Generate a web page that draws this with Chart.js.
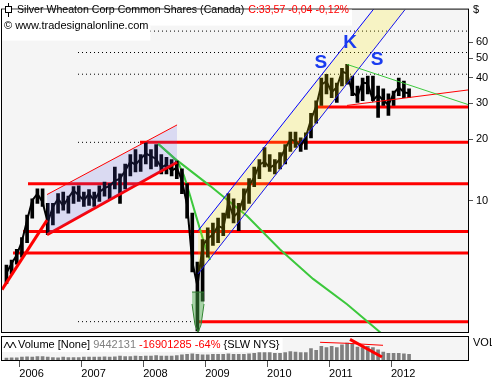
<!DOCTYPE html>
<html>
<head>
<meta charset="utf-8">
<script src="https://cdn.jsdelivr.net/npm/chart.js@4.4.1/dist/chart.umd.min.js"></script>
<style>
    html, body { margin: 0; padding: 0; background: #fff; }
</style>
</head>
<body>
<canvas id="grafico" width="492" height="378"></canvas>
<script>
// meses (categorias) e valores
const meses = [
    '2005-10', '2005-11', '2005-12',
    '2006-01', '2006-02', '2006-03', '2006-04', '2006-05', '2006-06', '2006-07', '2006-08', '2006-09', '2006-10', '2006-11', '2006-12',
    '2007-01', '2007-02', '2007-03', '2007-04', '2007-05', '2007-06', '2007-07', '2007-08', '2007-09', '2007-10', '2007-11', '2007-12',
    '2008-01', '2008-02', '2008-03', '2008-04', '2008-05', '2008-06', '2008-07', '2008-08', '2008-09', '2008-10', '2008-11', '2008-12',
    '2009-01', '2009-02', '2009-03', '2009-04', '2009-05', '2009-06', '2009-07', '2009-08', '2009-09', '2009-10', '2009-11', '2009-12',
    '2010-01', '2010-02', '2010-03', '2010-04', '2010-05', '2010-06', '2010-07', '2010-08', '2010-09', '2010-10', '2010-11', '2010-12',
    '2011-01', '2011-02', '2011-03', '2011-04', '2011-05', '2011-06', '2011-07', '2011-08', '2011-09', '2011-10', '2011-11', '2011-12',
    '2012-01', '2012-02', '2012-03', '2012-04'
];
const maxima = [
    4.82, 5.09, 5.75,
    6.57, 8.47, 10.2, 11.4, 11.4, 9.67, 9.67, 10.8, 11.0, 10.5, 11.7, 11.8,
    11.0, 11.3, 11.0, 11.8, 12.3, 12.1, 14.6, 13.5, 15.1, 16.8, 17.8, 16.8,
    19.2, 17.8, 18.8, 16.8, 16.3, 15.9, 15.6, 14.3, 12.1, 8.66, 4.98, 6.42,
    7.33, 7.75, 8.19, 8.66, 10.8, 10.2, 9.67, 11.4, 12.8, 14.6, 15.9, 18.2,
    16.8, 15.9, 17.2, 18.8, 21.7, 21.7, 20.3, 21.5, 26.8, 30.9, 39.9, 41.7,
    39.9, 37.7, 44.6, 46.6, 40.8, 36.5, 39.9, 40.8, 40.8, 36.5, 35.3, 33.4,
    34.5, 39.9, 38.6, 35.3
];
const minima = [
    3.90, 4.36, 4.87,
    5.26, 6.21, 8.19, 9.67, 9.36, 6.79, 7.58, 8.66, 8.95, 8.66, 9.67, 9.89,
    9.36, 9.46, 9.36, 9.89, 10.5, 10.2, 11.4, 9.67, 11.4, 13.2, 13.8, 13.9,
    15.1, 14.3, 14.7, 13.5, 13.5, 13.2, 12.8, 10.8, 8.19, 4.46, 2.29, 3.20,
    5.26, 6.01, 6.21, 6.71, 8.19, 7.75, 7.10, 8.95, 9.67, 11.7, 12.8, 14.6,
    13.9, 13.5, 14.3, 15.1, 17.4, 18.2, 17.4, 17.8, 20.3, 24.0, 29.3, 33.4,
    32.0, 30.3, 36.5, 37.3, 32.7, 30.3, 30.9, 33.4, 30.9, 25.6, 29.3, 26.2,
    29.3, 32.7, 32.0, 32.0
];
const fechamento = [
    4.4, 4.9, 5.4,
    6.3, 8.0, 10.0, 10.8, 9.8, 7.8, 9.3, 10.2, 9.4, 10.3, 11.2, 10.6,
    10.0, 10.8, 10.0, 11.0, 11.5, 11.8, 12.5, 12.8, 14.0, 15.5, 15.0, 16.0,
    17.0, 16.5, 16.0, 14.5, 15.0, 14.0, 14.5, 12.5, 9.5, 5.0, 3.8, 6.0,
    6.5, 6.8, 7.5, 7.3, 9.8, 8.3, 8.8, 10.5, 11.8, 13.0, 15.0, 15.5,
    14.5, 15.0, 16.0, 18.0, 20.0, 19.5, 18.5, 20.5, 25.0, 29.0, 37.0, 38.5,
    34.0, 36.0, 43.0, 42.0, 34.0, 32.5, 38.0, 37.5, 31.0, 33.0, 31.0, 29.5,
    33.5, 36.0, 34.0, 33.57
];
// volume em milhoes
const volume = [
    3.5, 4, 4,
    5, 5.5, 5, 6, 6, 5, 4.5, 4, 5, 4.5, 4.5, 4.5,
    5, 5, 5, 5, 5.5, 5, 5.5, 7, 6, 6, 7, 6.5,
    7, 7, 8, 7, 7, 7, 8, 9, 10, 11, 10, 9,
    9, 10, 10, 10, 11, 10, 10, 10, 11, 12, 13, 13,
    13, 12, 12, 13, 15, 14, 13, 13, 20, 17, 24, 22,
    24, 22, 27, 30, 28, 23, 22, 24, 22, 18, 14, 12,
    12, 12, 11, 10
];

const anos = [2006, 2007, 2008, 2009, 2010, 2011, 2012];
const precoTicks = [10, 20, 30, 40, 50, 60];

// linhas desenhadas sobre o grafico: [ano decimal, preco]
const niveis = [28.8, 19.3, 12.07, 7.04, 5.52, 2.54];
const niveisInicio = [2010.774, 2007.948, 2006.140, 2006.060, 2005.898, 2008.885];
const pontilhados = [67.9, 53.3, 41.7, 19.3, 2.54];
const pontilhadosFim = [2013.243, 2013.243, 2013.243, 2007.948, 2008.885];
const pontilhadosInicio = 2006.947;
const retaSubida = [[2005.72, 3.65], [2006.447, 8.01]];
const canalTopo = [[2006.447, 10.69], [2008.546, 23.5]];
const canalBase = [[2006.447, 6.79], [2008.546, 15.4]];
const verdeCurva = [[2008.239, 19.0], [2008.433, 16.8], [2008.562, 15.4], [2008.659, 13.2], [2008.756, 10.57], [2008.868, 8.10], [2008.981, 6.21], [2009.078, 5.09]];
const verdeLonga = [[2008.239, 19.0], [2008.562, 15.6], [2009.078, 11.8], [2009.676, 8.38], [2010.209, 5.75], [2010.742, 4.12], [2011.290, 3.09], [2011.903, 2.15]];
const fundoTopo = [[2008.788, 3.55], [2008.981, 3.55]];
const fundoBase = [[2008.788, 3.1], [2008.836, 2.45], [2008.885, 2.25], [2008.933, 2.45], [2008.981, 3.1]];
const altaTopo = [[2008.885, 7.10], [2012.226, 136.3]];
const altaBase = [[2008.885, 4.36], [2012.226, 86.6]];
const verdeFina = [[2011.29, 46.6], [2013.243, 29.6]];
const vermelhaFina = [[2011.29, 29.3], [2013.243, 34.9]];
const volPlana = [[2010.855, 31.3], [2011.3, 29.5], [2011.871, 26.0]];
const volQueda = [[2011.338, 36.5], [2011.855, 5.2]];
const letras = ['S', 'K', 'S'];
const letrasAno = [2010.868, 2011.338, 2011.774];
const letrasPreco = [46.1, 57.5, 47.6];

const xMin = 2005.72, xMax = 2013.243;
const yMin = 1.646, yMax = 86.6;
const fonte = "'Liberation Sans', Arial, sans-serif";
const recortePreco = { left: 0, top: 0, right: 0, bottom: -28 };

function anoDecimal(m) {
    const partes = m.split('-').map(Number);
    return partes[0] + (partes[1] - 0.5) / 12;
}

function linha(pontos, cor, largura, ordem, extra) {
    return Object.assign({
        type: 'line',
        data: pontos.map(p => ({ x: p[0], y: p[1] })),
        borderColor: cor,
        borderWidth: largura,
        pointRadius: 0,
        fill: false,
        tension: 0,
        order: ordem,
        clip: recortePreco,
        yAxisID: 'y'
    }, extra || {});
}

const datasets = [];
pontilhados.forEach(function (v, i) {
    datasets.push(linha([[pontilhadosInicio, v], [pontilhadosFim[i], v]], '#000', 1, 90, { borderDash: [1, 3] }));
});
niveis.forEach(function (v, i) {
    datasets.push(linha([[niveisInicio[i], v], [xMax, v]], '#ff0000', 3, 80));
});
datasets.push(linha(verdeCurva, '#3cc83c', 2, 75));
datasets.push(linha(verdeLonga, '#3cc83c', 2, 75));
datasets.push({
    type: 'bar',
    yAxisID: 'yv',
    data: meses.map((m, i) => ({ x: anoDecimal(m), y: volume[i] })),
    backgroundColor: '#808080',
    barThickness: 3,
    grouped: false,
    order: 70
});
datasets.push({
    type: 'bar',
    yAxisID: 'y',
    data: meses.map((m, i) => ({ x: anoDecimal(m), y: [minima[i], maxima[i]] })),
    backgroundColor: '#000',
    barThickness: 3,
    grouped: false,
    clip: recortePreco,
    order: 60
});
datasets.push(linha(meses.map((m, i) => [anoDecimal(m), fechamento[i]]), '#000', 2, 55));
datasets.push(linha(retaSubida, '#ff0000', 3, 50));
datasets.push(linha(canalTopo, '#ff0000', 1, 40, { fill: '+1', backgroundColor: 'rgba(90,90,230,0.17)' }));
datasets.push(linha(canalBase, '#ff0000', 3, 41));
datasets.push(linha(fundoTopo, '#2d7a2d', 1, 35, { fill: '+1', backgroundColor: 'rgba(70,170,70,0.45)' }));
datasets.push(linha(fundoBase, '#2d7a2d', 1, 36));
datasets.push(linha(altaTopo, '#0000ff', 1, 30, { fill: '+1', backgroundColor: 'rgba(255,235,0,0.2)' }));
datasets.push(linha(altaBase, '#0000ff', 1, 31));
datasets.push(linha(verdeFina, '#3cc83c', 1, 20));
datasets.push(linha(vermelhaFina, '#ff0000', 1, 20));
datasets.push(linha(volPlana, '#ff0000', 1, 20, { yAxisID: 'yv', clip: undefined }));
datasets.push(linha(volQueda, '#ff0000', 3, 20, { yAxisID: 'yv', clip: undefined }));

const molduras = {
    id: 'molduras',
    beforeDraw(chart) {
        const ctx = chart.ctx, a = chart.chartArea;
        ctx.save();
        ctx.fillStyle = '#fff';
        ctx.fillRect(0, 0, chart.width, chart.height);
        ctx.fillStyle = '#f5f5f5';
        ctx.fillRect(a.left, a.top, a.right - a.left, a.bottom - 28 - a.top);
        ctx.fillRect(a.left, a.bottom - 23, a.right - a.left, 23);
        ctx.restore();
    },
    afterDraw(chart) {
        const ctx = chart.ctx, a = chart.chartArea;
        const sx = chart.scales.x, sy = chart.scales.y;
        ctx.save();
        // bordas
        ctx.strokeStyle = '#000';
        ctx.lineWidth = 1;
        ctx.strokeRect(a.left - 0.5, a.top - 0.5, a.right - a.left + 1, a.bottom - 28 - a.top + 1);
        ctx.strokeRect(a.left - 0.5, a.bottom - 23.5, a.right - a.left + 1, 24);

        ctx.font = '10.6px ' + fonte;
        ctx.textBaseline = 'middle';
        // titulo
        const t1 = 'Silver Wheaton Corp Common Shares (Canada)';
        const t2 = 'C:33,57 -0,04 -0,12%';
        const w1 = ctx.measureText(t1).width, w2 = ctx.measureText(t2).width;
        ctx.fillStyle = '#fff';
        ctx.fillRect(a.left, a.top, 17 + w1 + 4 + w2 + 3 - a.left, 16);
        ctx.font = '11px ' + fonte;
        const w3 = ctx.measureText('© www.tradesignalonline.com').width;
        ctx.fillRect(a.left, a.top + 16, 4 + w3 + 2 - a.left, 15);
        ctx.fillStyle = '#000';
        ctx.fillText('© www.tradesignalonline.com', 4, 26);
        ctx.font = '10.6px ' + fonte;
        ctx.fillText(t1, 17, 10);
        ctx.fillStyle = '#ff0000';
        ctx.fillText(t2, 17 + w1 + 4, 10);
        // icone do titulo
        ctx.beginPath();
        ctx.moveTo(8.5, 3); ctx.lineTo(8.5, 17);
        ctx.stroke();
        ctx.fillStyle = '#fff';
        ctx.fillRect(5.5, 6.5, 6, 6);
        ctx.strokeRect(5.5, 6.5, 6, 6);

        // texto do volume
        ctx.font = '11px ' + fonte;
        const partes = [['Volume [None]', '#000'], ['9442131', '#808080'], ['-16901285 -64%', '#ff0000'], ['{SLW NYS}', '#000']];
        let larg = 18;
        partes.forEach(p => { larg += ctx.measureText(p[0] + ' ').width; });
        ctx.fillStyle = '#fff';
        ctx.fillRect(a.left, a.bottom - 22, larg - a.left, 14);
        let px = 18;
        partes.forEach(function (p) {
            ctx.fillStyle = p[1];
            ctx.fillText(p[0], px, a.bottom - 15);
            px += ctx.measureText(p[0] + ' ').width;
        });
        ctx.beginPath();
        ctx.moveTo(4, a.bottom - 12);
        ctx.lineTo(7, a.bottom - 18);
        ctx.lineTo(10, a.bottom - 12);
        ctx.lineTo(13, a.bottom - 18);
        ctx.lineTo(16, a.bottom - 12);
        ctx.strokeStyle = '#000';
        ctx.stroke();

        // eixo
        ctx.fillStyle = '#000';
        ctx.fillText('$', a.right + 5, 10);
        ctx.fillText('VOL', a.right + 5, a.bottom - 17);

        // S K S
        ctx.font = 'bold 19px ' + fonte;
        ctx.textAlign = 'center';
        ctx.fillStyle = '#1a3cf0';
        letras.forEach(function (l, i) {
            ctx.fillText(l, sx.getPixelForValue(letrasAno[i]), sy.getPixelForValue(letrasPreco[i]) - 3);
        });
        ctx.restore();
    }
};

const ctx = document.getElementById('grafico').getContext('2d');
const grafico = new Chart(ctx, {
    type: 'bar',
    data: { datasets: datasets },
    options: {
        responsive: false,
        animation: false,
        devicePixelRatio: 1,
        layout: { padding: { top: 2, left: 2, right: 0, bottom: 0 } },
        plugins: { legend: { display: false }, tooltip: { enabled: false } },
        scales: {
            x: {
                type: 'linear',
                offset: false,
                min: xMin,
                max: xMax,
                grid: { drawOnChartArea: false, offset: false, tickLength: 7, color: '#555' },
                border: { display: false },
                ticks: {
                    align: 'start',
                    padding: 0,
                    maxRotation: 0,
                    color: '#000',
                    font: { family: fonte, size: 11 },
                    callback: function (value) { return String(value); }
                },
                afterBuildTicks: function (s) { s.ticks = anos.map(v => ({ value: v })); },
                afterFit: function (s) { s.height = 18; }
            },
            y: {
                type: 'logarithmic',
                position: 'right',
                min: yMin,
                max: yMax,
                grid: { drawOnChartArea: false, tickLength: 5, color: '#555' },
                border: { display: false },
                ticks: {
                    padding: 3,
                    color: '#000',
                    font: { family: fonte, size: 11 },
                    callback: function (value) { return String(value); }
                },
                afterBuildTicks: function (s) { s.ticks = precoTicks.map(v => ({ value: v })); },
                afterFit: function (s) { s.width = 24; }
            },
            yv: { type: 'linear', display: false, min: 0, max: 620 }
        }
    },
    plugins: [molduras]
});
</script>
</body>
</html>
